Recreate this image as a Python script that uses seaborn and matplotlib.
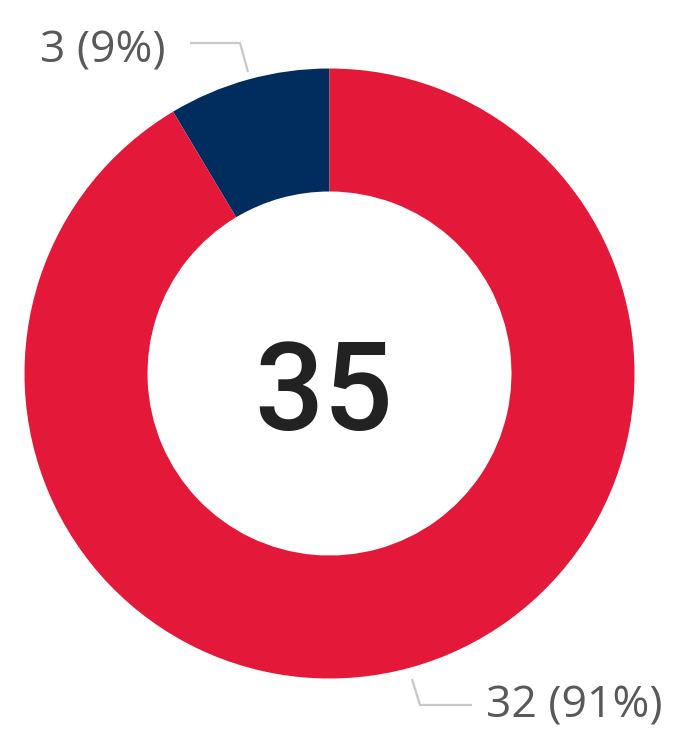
import matplotlib
matplotlib.use("Agg")
import matplotlib.pyplot as plt
import seaborn as sns

# Data
categories = ["Minority", "Majority"]
values = [3, 32]
colors = ["#002D5E", "#E41939"]

total = sum(values)
labels = [f"{v} ({round(v / total * 100)}%)" for v in values]

sns.set_theme(style="white")
plt.rcParams["font.family"] = ["Open Sans", "DejaVu Sans"]

W, H = 673, 730
fig = plt.figure(figsize=(W / 100, H / 100), dpi=100)
ax = fig.add_axes([0, 0, 1, 1])

cx, cy = 329.5, H - 373.5
R = 305
ax.pie(values, colors=colors, startangle=90, counterclock=True,
       radius=R, center=(cx, cy),
       wedgeprops=dict(width=123, linewidth=0))
ax.set_xlim(0, W)
ax.set_ylim(0, H)
ax.set_aspect("auto")
ax.axis("off")

# Center total
ax.text(324, H - 430, str(total), ha="center", va="baseline",
        fontsize=88, color="#222222", family=["Roboto", "DejaVu Sans"],
        fontweight="medium")

line_kw = dict(color="#c8c8c8", lw=1.6, solid_capstyle="butt")
# Leader for small slice
ax.plot([190, 240, 248], [H - 43, H - 43, H - 72], **line_kw)
ax.text(40, H - 63, labels[0], ha="left", va="baseline",
        fontsize=32, color="#595959")
# Leader for big slice
ax.plot([412, 420, 472], [H - 679, H - 705, H - 705], **line_kw)
ax.text(486, 1.5, labels[1], ha="left", va="bottom",
        fontsize=32, color="#595959")

fig.savefig("out.png", dpi=100)
